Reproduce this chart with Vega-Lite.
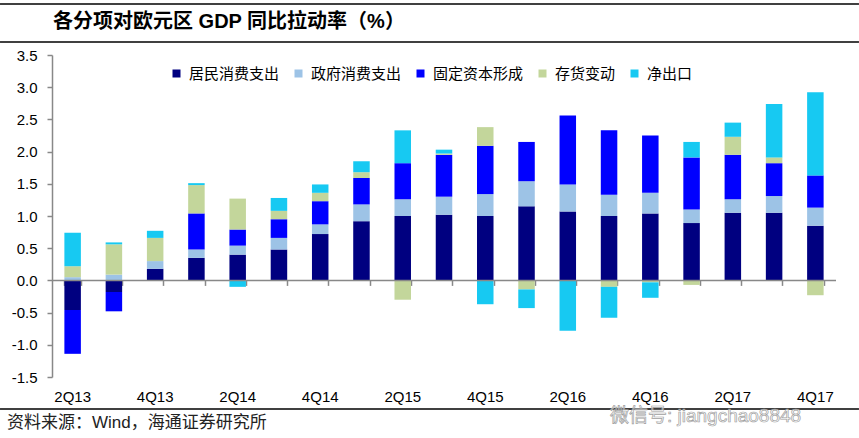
{
  "$schema": "https://vega.github.io/schema/vega-lite/v6.json",
  "width": 784,
  "height": 322,
  "autosize": {"type": "none"},
  "padding": {"left": 52, "top": 55, "right": 23, "bottom": 61},
  "background": "white",
  "config": {"view": {"stroke": null}, "font": "Liberation Sans, Noto Sans CJK SC"},
  "datasets": {
    "gdp": [
      {"q": "2Q13", "k": 1, "s": "居民消费支出", "v": -0.46}, {"q": "2Q13", "k": 2, "s": "政府消费支出", "v": 0.05}, {"q": "2Q13", "k": 3, "s": "固定资本形成", "v": -0.68}, {"q": "2Q13", "k": 4, "s": "存货变动", "v": 0.17}, {"q": "2Q13", "k": 5, "s": "净出口", "v": 0.52},
      {"q": "3Q13", "k": 1, "s": "居民消费支出", "v": -0.18}, {"q": "3Q13", "k": 2, "s": "政府消费支出", "v": 0.09}, {"q": "3Q13", "k": 3, "s": "固定资本形成", "v": -0.30}, {"q": "3Q13", "k": 4, "s": "存货变动", "v": 0.47}, {"q": "3Q13", "k": 5, "s": "净出口", "v": 0.03},
      {"q": "4Q13", "k": 1, "s": "居民消费支出", "v": 0.18}, {"q": "4Q13", "k": 2, "s": "政府消费支出", "v": 0.12}, {"q": "4Q13", "k": 3, "s": "固定资本形成", "v": 0.0}, {"q": "4Q13", "k": 4, "s": "存货变动", "v": 0.36}, {"q": "4Q13", "k": 5, "s": "净出口", "v": 0.11},
      {"q": "1Q14", "k": 1, "s": "居民消费支出", "v": 0.35}, {"q": "1Q14", "k": 2, "s": "政府消费支出", "v": 0.13}, {"q": "1Q14", "k": 3, "s": "固定资本形成", "v": 0.56}, {"q": "1Q14", "k": 4, "s": "存货变动", "v": 0.44}, {"q": "1Q14", "k": 5, "s": "净出口", "v": 0.03},
      {"q": "2Q14", "k": 1, "s": "居民消费支出", "v": 0.40}, {"q": "2Q14", "k": 2, "s": "政府消费支出", "v": 0.14}, {"q": "2Q14", "k": 3, "s": "固定资本形成", "v": 0.25}, {"q": "2Q14", "k": 4, "s": "存货变动", "v": 0.48}, {"q": "2Q14", "k": 5, "s": "净出口", "v": -0.10},
      {"q": "3Q14", "k": 1, "s": "居民消费支出", "v": 0.48}, {"q": "3Q14", "k": 2, "s": "政府消费支出", "v": 0.18}, {"q": "3Q14", "k": 3, "s": "固定资本形成", "v": 0.29}, {"q": "3Q14", "k": 4, "s": "存货变动", "v": 0.13}, {"q": "3Q14", "k": 5, "s": "净出口", "v": 0.20},
      {"q": "4Q14", "k": 1, "s": "居民消费支出", "v": 0.72}, {"q": "4Q14", "k": 2, "s": "政府消费支出", "v": 0.15}, {"q": "4Q14", "k": 3, "s": "固定资本形成", "v": 0.36}, {"q": "4Q14", "k": 4, "s": "存货变动", "v": 0.13}, {"q": "4Q14", "k": 5, "s": "净出口", "v": 0.13},
      {"q": "1Q15", "k": 1, "s": "居民消费支出", "v": 0.92}, {"q": "1Q15", "k": 2, "s": "政府消费支出", "v": 0.26}, {"q": "1Q15", "k": 3, "s": "固定资本形成", "v": 0.41}, {"q": "1Q15", "k": 4, "s": "存货变动", "v": 0.09}, {"q": "1Q15", "k": 5, "s": "净出口", "v": 0.17},
      {"q": "2Q15", "k": 1, "s": "居民消费支出", "v": 1.00}, {"q": "2Q15", "k": 2, "s": "政府消费支出", "v": 0.26}, {"q": "2Q15", "k": 3, "s": "固定资本形成", "v": 0.56}, {"q": "2Q15", "k": 4, "s": "存货变动", "v": -0.30}, {"q": "2Q15", "k": 5, "s": "净出口", "v": 0.51},
      {"q": "3Q15", "k": 1, "s": "居民消费支出", "v": 1.02}, {"q": "3Q15", "k": 2, "s": "政府消费支出", "v": 0.28}, {"q": "3Q15", "k": 3, "s": "固定资本形成", "v": 0.65}, {"q": "3Q15", "k": 4, "s": "存货变动", "v": 0.02}, {"q": "3Q15", "k": 5, "s": "净出口", "v": 0.06},
      {"q": "4Q15", "k": 1, "s": "居民消费支出", "v": 1.00}, {"q": "4Q15", "k": 2, "s": "政府消费支出", "v": 0.34}, {"q": "4Q15", "k": 3, "s": "固定资本形成", "v": 0.75}, {"q": "4Q15", "k": 4, "s": "存货变动", "v": 0.29}, {"q": "4Q15", "k": 5, "s": "净出口", "v": -0.37},
      {"q": "1Q16", "k": 1, "s": "居民消费支出", "v": 1.15}, {"q": "1Q16", "k": 2, "s": "政府消费支出", "v": 0.39}, {"q": "1Q16", "k": 3, "s": "固定资本形成", "v": 0.61}, {"q": "1Q16", "k": 4, "s": "存货变动", "v": -0.14}, {"q": "1Q16", "k": 5, "s": "净出口", "v": -0.29},
      {"q": "2Q16", "k": 1, "s": "居民消费支出", "v": 1.07}, {"q": "2Q16", "k": 2, "s": "政府消费支出", "v": 0.42}, {"q": "2Q16", "k": 3, "s": "固定资本形成", "v": 1.07}, {"q": "2Q16", "k": 4, "s": "存货变动", "v": 0.0}, {"q": "2Q16", "k": 5, "s": "净出口", "v": -0.78},
      {"q": "3Q16", "k": 1, "s": "居民消费支出", "v": 1.00}, {"q": "3Q16", "k": 2, "s": "政府消费支出", "v": 0.33}, {"q": "3Q16", "k": 3, "s": "固定资本形成", "v": 1.00}, {"q": "3Q16", "k": 4, "s": "存货变动", "v": -0.10}, {"q": "3Q16", "k": 5, "s": "净出口", "v": -0.48},
      {"q": "4Q16", "k": 1, "s": "居民消费支出", "v": 1.04}, {"q": "4Q16", "k": 2, "s": "政府消费支出", "v": 0.32}, {"q": "4Q16", "k": 3, "s": "固定资本形成", "v": 0.89}, {"q": "4Q16", "k": 4, "s": "存货变动", "v": -0.03}, {"q": "4Q16", "k": 5, "s": "净出口", "v": -0.24},
      {"q": "1Q17", "k": 1, "s": "居民消费支出", "v": 0.89}, {"q": "1Q17", "k": 2, "s": "政府消费支出", "v": 0.21}, {"q": "1Q17", "k": 3, "s": "固定资本形成", "v": 0.81}, {"q": "1Q17", "k": 4, "s": "存货变动", "v": -0.07}, {"q": "1Q17", "k": 5, "s": "净出口", "v": 0.24},
      {"q": "2Q17", "k": 1, "s": "居民消费支出", "v": 1.05}, {"q": "2Q17", "k": 2, "s": "政府消费支出", "v": 0.21}, {"q": "2Q17", "k": 3, "s": "固定资本形成", "v": 0.69}, {"q": "2Q17", "k": 4, "s": "存货变动", "v": 0.28}, {"q": "2Q17", "k": 5, "s": "净出口", "v": 0.22},
      {"q": "3Q17", "k": 1, "s": "居民消费支出", "v": 1.05}, {"q": "3Q17", "k": 2, "s": "政府消费支出", "v": 0.26}, {"q": "3Q17", "k": 3, "s": "固定资本形成", "v": 0.51}, {"q": "3Q17", "k": 4, "s": "存货变动", "v": 0.09}, {"q": "3Q17", "k": 5, "s": "净出口", "v": 0.83},
      {"q": "4Q17", "k": 1, "s": "居民消费支出", "v": 0.85}, {"q": "4Q17", "k": 2, "s": "政府消费支出", "v": 0.28}, {"q": "4Q17", "k": 3, "s": "固定资本形成", "v": 0.50}, {"q": "4Q17", "k": 4, "s": "存货变动", "v": -0.23}, {"q": "4Q17", "k": 5, "s": "净出口", "v": 1.29}
    ]
  },
  "layer": [
    {
      "data": {"name": "gdp"},
      "mark": {"type": "bar"},
      "encoding": {
        "x": {
          "field": "q", "type": "nominal", "sort": null,
          "scale": {"paddingInner": 0.6, "paddingOuter": 0.3},
          "axis": {"orient": "bottom", "title": null, "domain": false, "ticks": false, "tickSize": 0, "labelPadding": 12, "labelAngle": 0, "labelFontSize": 15, "labelColor": "#000000", "labelFont": "Liberation Sans", "grid": false,
            "values": ["2Q13", "4Q13", "2Q14", "4Q14", "2Q15", "4Q15", "2Q16", "4Q16", "2Q17", "4Q17"]}
        },
        "y": {
          "field": "v", "type": "quantitative", "stack": "zero",
          "scale": {"domain": [-1.5, 3.5], "nice": false, "zero": false},
          "axis": {"orient": "left", "title": null, "values": [-1.5, -1, -0.5, 0, 0.5, 1, 1.5, 2, 2.5, 3, 3.5], "labelOverlap": false, "labelExpr": "replace(format(datum.value, '.1f'), '\u2212', '-')", "grid": false, "domainColor": "#888888", "domainWidth": 1.5, "tickColor": "#888888", "tickWidth": 1.5, "tickSize": 5, "labelPadding": 10, "labelFontSize": 15, "labelColor": "#000000", "labelFont": "Liberation Sans"}
        },
        "order": {"field": "k", "type": "quantitative", "sort": "ascending"},
        "color": {
          "field": "s", "type": "nominal",
          "sort": ["居民消费支出", "政府消费支出", "固定资本形成", "存货变动", "净出口"],
          "scale": {"domain": ["居民消费支出", "政府消费支出", "固定资本形成", "存货变动", "净出口"], "range": ["#000080", "#9DC3E6", "#0000FF", "#C3D69B", "#17C9F2"]},
          "legend": {"orient": "none", "legendX": 117, "legendY": 11, "direction": "horizontal", "gridAlign": "none", "title": null, "symbolType": "square", "symbolSize": 64, "symbolStrokeWidth": 0, "symbolOpacity": 1, "labelFontSize": 15, "labelFont": "Noto Sans CJK SC", "labelColor": "#000000", "columnPadding": 11, "labelOffset": 5, "padding": 0}
        }
      }
    },
    {
      "data": {"values": [{"z": 0}]},
      "mark": {"type": "rule", "color": "#888888", "strokeWidth": 1.5},
      "encoding": {"y": {"field": "z", "type": "quantitative", "axis": null}}
    },
    {
      "data": {"name": "gdp"},
      "mark": {"type": "rule", "opacity": 0},
      "encoding": {
        "x": {
          "field": "q", "type": "nominal", "sort": null,
          "scale": {"paddingInner": 0.6, "paddingOuter": 0.3},
          "axis": {"orient": "bottom", "offset": -96.6, "labels": false, "title": null, "domain": false, "ticks": true, "tickColor": "#888888", "tickWidth": 1.5, "tickSize": 5, "tickBand": "extent", "grid": false}
        }
      }
    },
    {
      "data": {"values": [{"title": "各分项对欧元区 GDP 同比拉动率（%）", "source": "资料来源：Wind，海通证券研究所", "wm": "微信号: jiangchao8848", "x0": -0.0663, "x1": 1.0293, "top": 4.292, "mid": 3.702, "bot": -1.997}]},
      "layer": [
        {
          "mark": {"type": "rule", "color": "#000000", "strokeWidth": 1.6},
          "encoding": {
            "x": {"field": "x0", "type": "quantitative", "scale": {"domain": [0, 1]}, "axis": null},
            "x2": {"field": "x1"},
            "y": {"field": "top", "type": "quantitative", "axis": null}
          }
        },
        {
          "mark": {"type": "rule", "color": "#000000", "strokeWidth": 1.6},
          "encoding": {
            "x": {"field": "x0", "type": "quantitative", "axis": null},
            "x2": {"field": "x1"},
            "y": {"field": "mid", "type": "quantitative", "axis": null}
          }
        },
        {
          "mark": {"type": "rule", "color": "#000000", "strokeWidth": 1.3},
          "encoding": {
            "x": {"field": "x0", "type": "quantitative", "axis": null},
            "x2": {"field": "x1"},
            "y": {"field": "bot", "type": "quantitative", "axis": null}
          }
        },
        {
          "mark": {"type": "text", "align": "left", "baseline": "middle", "fontSize": 20, "fontWeight": "bold", "font": "Liberation Sans, Noto Sans CJK SC", "color": "#000000"},
          "encoding": {
            "x": {"datum": 0.0013, "type": "quantitative", "axis": null},
            "y": {"datum": 4.005, "type": "quantitative", "axis": null},
            "text": {"field": "title"}
          }
        },
        {
          "mark": {"type": "text", "align": "left", "baseline": "middle", "fontSize": 17, "font": "Liberation Sans, Noto Sans CJK SC", "color": "#222222"},
          "encoding": {
            "x": {"datum": -0.0574, "type": "quantitative", "axis": null},
            "y": {"datum": -2.214, "type": "quantitative", "axis": null},
            "text": {"field": "source"}
          }
        },
        {
          "mark": {"type": "text", "align": "left", "baseline": "middle", "fontSize": 19, "font": "Liberation Sans, Noto Sans CJK SC", "fill": "#ffffff", "fillOpacity": 0.6, "stroke": "#a0a0a0", "strokeWidth": 0.7},
          "encoding": {
            "x": {"datum": 0.7117, "type": "quantitative", "axis": null},
            "y": {"datum": -2.1, "type": "quantitative", "axis": null},
            "text": {"field": "wm"}
          }
        }
      ]
    }
  ],
  "resolve": {"scale": {"x": "independent"}, "axis": {"x": "independent", "y": "independent"}}
}
